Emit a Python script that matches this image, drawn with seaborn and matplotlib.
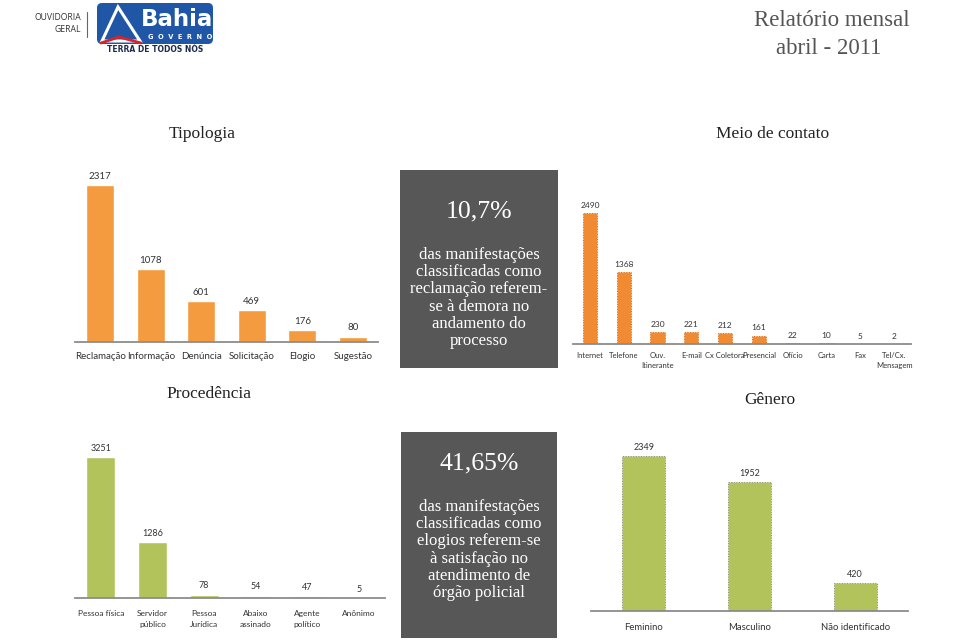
import numpy as np
import pandas as pd
import matplotlib.pyplot as plt
import seaborn as sns
from matplotlib.patches import Rectangle, FancyBboxPatch, Polygon

# ============================================
# DATA
# ============================================

tipologia_cats = ["Reclamação", "Informação", "Denúncia", "Solicitação", "Elogio", "Sugestão"]
tipologia_vals = [2317, 1078, 601, 469, 176, 80]

contato_cats = ["Internet", "Telefone", "Ouv.\nItinerante", "E-mail", "Cx Coletora",
                "Presencial", "Ofício", "Carta", "Fax", "Tel/Cx.\nMensagem"]
contato_vals = [2490, 1368, 230, 221, 212, 161, 22, 10, 5, 2]

procedencia_cats = ["Pessoa física", "Servidor\npúblico", "Pessoa\nJurídica",
                    "Abaixo\nassinado", "Agente\npolítico", "Anônimo"]
procedencia_vals = [3251, 1286, 78, 54, 47, 5]

genero_cats = ["Feminino", "Masculino", "Não identificado"]
genero_vals = [2349, 1952, 420]

box1_big = "10,7%"
box1_text = ("das manifestações\nclassificadas como\nreclamação referem-\n"
             "se à demora no\nandamento do\nprocesso")
box2_big = "41,65%"
box2_text = ("das manifestações\nclassificadas como\nelogios referem-se\n"
             "à satisfação no\natendimento de\nórgão policial")

# ============================================
# FIGURE
# ============================================

sns.set_theme(style="white")
plt.rcParams["font.family"] = ["Lato", "DejaVu Sans"]

W, H = 960, 640
fig = plt.figure(figsize=(9.6, 6.4), dpi=100)
fig.patch.set_facecolor("white")

# overlay in pixel coordinates for header, titles and boxes
bg = fig.add_axes([0, 0, 1, 1])
bg.set_xlim(0, W)
bg.set_ylim(H, 0)
bg.axis("off")

SERIF = ["Liberation Serif", "DejaVu Serif"]

# header logo
bg.text(81, 17, "OUVIDORIA", ha="right", va="center", fontsize=6.2, color="#333333",
        family=["Open Sans", "DejaVu Sans"])
bg.text(81, 30, "GERAL", ha="right", va="center", fontsize=6.2, color="#333333",
        family=["Open Sans", "DejaVu Sans"])
bg.plot([87, 87], [12, 37], color="#666666", lw=0.8)
bg.add_patch(FancyBboxPatch((97, 3), 116, 41,
                            boxstyle="round,pad=0,rounding_size=5",
                            facecolor="#1f56a6", edgecolor="none"))
bg.add_patch(Polygon([[102, 41], [118, 7], [140, 41]], closed=True,
                     facecolor="none", edgecolor="white", lw=2.2))
bg.plot([101, 119, 141], [43, 37, 43], color="#d8232a", lw=2)
bg.text(177, 20, "Bahia", ha="center", va="center", fontsize=16.5, fontweight="bold",
        color="white", family=["DejaVu Sans"])
bg.text(180, 37, "G  O  V  E  R  N  O", ha="center", va="center", fontsize=4.8,
        color="white", fontweight="bold", family=["DejaVu Sans"])
bg.text(155, 49, "TERRA DE TODOS NÓS", ha="center", va="center", fontsize=5.5,
        fontweight="bold", color="#1d2b4f", family=["DejaVu Sans"])

bg.text(832, 20, "Relatório mensal", ha="center", va="center", fontsize=16.5,
        color="#555555", family=SERIF)
bg.text(829, 48, "abril - 2011", ha="center", va="center", fontsize=16.5,
        color="#555555", family=SERIF)

# section titles
for txt, x, y in [("Tipologia", 202, 134), ("Meio de contato", 773, 134),
                  ("Procedência", 209, 394), ("Gênero", 770, 400)]:
    bg.text(x, y, txt, ha="center", va="center", fontsize=12.5,
            color="#222222", family=SERIF)

# gray highlight boxes
bg.add_patch(Rectangle((400, 170), 158, 198, facecolor="#575757", edgecolor="none"))
bg.add_patch(Rectangle((401, 432), 156, 206, facecolor="#575757", edgecolor="none"))
bg.text(479, 211, box1_big, ha="center", va="center", fontsize=18.5, color="white",
        family=SERIF)
bg.text(479, 298, box1_text, ha="center", va="center", fontsize=12, color="white",
        family=SERIF, linespacing=1.1, multialignment="center")
bg.text(479, 463, box2_big, ha="center", va="center", fontsize=18.5, color="white",
        family=SERIF)
bg.text(479, 550, box2_text, ha="center", va="center", fontsize=12, color="white",
        family=SERIF, linespacing=1.1, multialignment="center")


# ============================================
# BAR PANELS
# ============================================

def bar_panel(left, right, bottom, top, cats, vals, color, ymax, width,
              tick_fs, val_fs, pad, edge=None, lsp=1.2):
    ax = fig.add_axes([left / W, 1 - bottom / H, (right - left) / W, (bottom - top) / H])
    kw = {}
    if edge:
        kw = dict(edgecolor=edge, linewidth=0.7, linestyle=":")
    sns.barplot(x=cats, y=vals, ax=ax, color=color, width=width, saturation=1, **kw)
    ax.set_ylim(0, ymax)
    ax.patch.set_alpha(0)
    ax.set_yticks([])
    ax.set_xlabel("")
    ax.set_ylabel("")
    for s in ["left", "top", "right"]:
        ax.spines[s].set_visible(False)
    ax.spines["bottom"].set_color("#8c8c8c")
    ax.spines["bottom"].set_linewidth(1.3)
    ax.tick_params(axis="x", length=0, pad=pad, labelsize=tick_fs, labelcolor="#333333")
    for lbl in ax.get_xticklabels():
        lbl.set_linespacing(lsp)
    ax.bar_label(ax.containers[0], padding=3, fontsize=val_fs, color="#333333")
    return ax


bar_panel(75, 378, 342, 165, tipologia_cats, tipologia_vals, "#f59b3f",
          2612, 0.56, 7, 7, pad=7.5)
bar_panel(573, 911, 344, 200, contato_cats, contato_vals, "#f08a33",
          2737, 0.42, 5.5, 6, pad=6, edge="#d06c1c", lsp=1.5)
bar_panel(75, 385, 598, 440, procedencia_cats, procedencia_vals, "#b3c35b",
          3643, 0.56, 6, 6.5, pad=8.5, lsp=1.7)
bar_panel(591, 908, 611, 440, genero_cats, genero_vals, "#b3c35b",
          2591, 0.41, 6.8, 6.5, pad=9, edge="#8a8a8a")

fig.savefig("out.png", dpi=100)
